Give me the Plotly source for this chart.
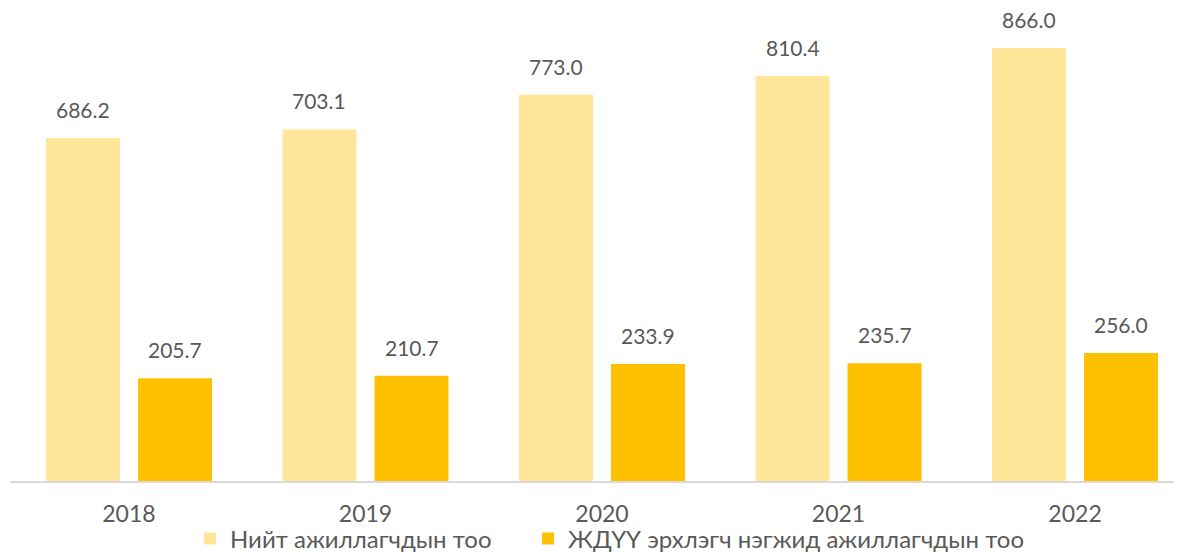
import plotly.graph_objects as go

years = ["2018", "2019", "2020", "2021", "2022"]
total_emp = [686.2, 703.1, 773.0, 810.4, 866.0]
sme_emp = [205.7, 210.7, 233.9, 235.7, 256.0]
name_total = "Нийт ажиллагчдын тоо"
name_sme = "ЖДҮҮ эрхлэгч нэгжид ажиллагчдын тоо"

xpos = list(range(len(years)))
font_family = "Lato, 'Open Sans', sans-serif"
txt_color = "#595959"
FS = 21

bar_w = 0.313
off_total = -0.351
off_sme = 0.038

fig = go.Figure()
fig.add_trace(go.Bar(
    x=xpos, y=total_emp, name=name_total, width=bar_w, offset=off_total,
    marker=dict(color="#FFE699", line=dict(width=0)), legend="legend",
))
fig.add_trace(go.Bar(
    x=xpos, y=sme_emp, name=name_sme, width=bar_w, offset=off_sme,
    marker=dict(color="#FFC000", line=dict(width=0)), legend="legend2",
))

annotations = []
for xs, vals, off in [(xpos, total_emp, off_total), (xpos, sme_emp, off_sme)]:
    for xi, v in zip(xs, vals):
        annotations.append(dict(
            x=xi + off + bar_w / 2, y=v, xref="x", yref="y",
            text=f"{v:.1f}", showarrow=False, yanchor="bottom", yshift=14,
            font=dict(size=FS, color=txt_color, family=font_family),
        ))

leg_common = dict(orientation="h", xanchor="left", y=-0.075, yanchor="top",
                  bgcolor="rgba(0,0,0,0)",
                  font=dict(size=24, color=txt_color, family=font_family))

fig.update_layout(
    width=1182, height=552,
    margin=dict(l=2, r=13, t=0, b=79, autoexpand=False),
    plot_bgcolor="white", paper_bgcolor="white",
    barmode="overlay",
    font=dict(family=font_family, color=txt_color, size=FS),
    showlegend=True,
    annotations=annotations,
    legend=dict(x=0.1542, **leg_common),
    legend2=dict(x=0.4439, **leg_common),
    xaxis=dict(range=[-0.503, 4.431], tickmode="array", tickvals=xpos, ticktext=years,
               showline=True, linecolor="#D9D9D9", linewidth=2, ticks="",
               ticklabelstandoff=11,
               showgrid=False, zeroline=False, tickfont=dict(size=23, color=txt_color)),
    yaxis=dict(range=[0, 946], visible=False, showgrid=False, zeroline=False),
)

fig.write_html("out.html")
